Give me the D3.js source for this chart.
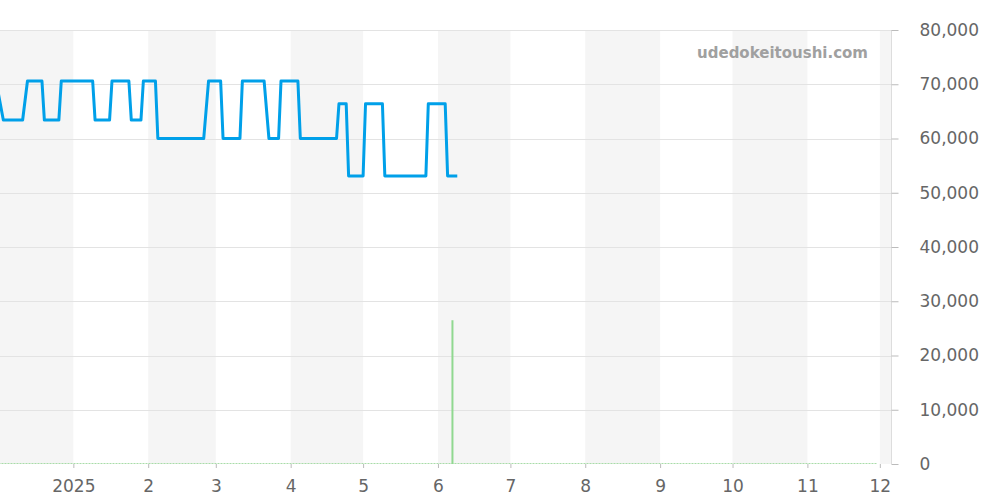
<!DOCTYPE html>
<html>
<head>
<meta charset="utf-8">
<script src="https://cdn.jsdelivr.net/npm/d3@7/dist/d3.min.js"></script>
<style>
  body { margin: 0; background: #fff; }
  svg { display: block; font-family: "DejaVu Sans", sans-serif; }
</style>
</head>
<body>
<svg id="chart" width="1000" height="500"></svg>
<script>
// price series (blue line)
const priceDates = [
  "2024-11-30", "2024-12-03", "2024-12-11", "2024-12-13", "2024-12-19", "2024-12-20",
  "2024-12-26", "2024-12-27", "2025-01-09", "2025-01-10", "2025-01-16", "2025-01-17",
  "2025-01-24", "2025-01-25", "2025-01-29", "2025-01-30", "2025-02-04", "2025-02-05",
  "2025-02-24", "2025-02-26", "2025-03-03", "2025-03-04", "2025-03-11", "2025-03-12",
  "2025-03-21", "2025-03-23", "2025-03-27", "2025-03-28", "2025-04-04", "2025-04-05",
  "2025-04-20", "2025-04-21", "2025-04-24", "2025-04-25", "2025-05-01", "2025-05-02",
  "2025-05-09", "2025-05-10", "2025-05-27", "2025-05-28", "2025-06-04", "2025-06-05",
  "2025-06-09"
];
const priceValues = [
  70600, 63400, 63400, 70600, 70600, 63400,
  63400, 70600, 70600, 63400, 63400, 70600,
  70600, 63400, 63400, 70600, 70600, 60000,
  60000, 70600, 70600, 60000, 60000, 70600,
  70600, 60000, 60000, 70600, 70600, 60000,
  60000, 66400, 66400, 53100, 53100, 66400,
  66400, 53100, 53100, 66400, 66400, 53100,
  53100
];

// volume series (green bars), zero outside these dates
const volumeDates = ["2025-06-07"];
const volumeValues = [26500];
const volumeRange = ["2024-12-01", "2025-11-30"];

// axes
const monthStarts = ["2024-12-01", "2025-01-01", "2025-02-01", "2025-03-01", "2025-04-01", "2025-05-01",
  "2025-06-01", "2025-07-01", "2025-08-01", "2025-09-01", "2025-10-01", "2025-11-01", "2025-12-01"];
const xTickDates = monthStarts.slice(1);
const xTickLabels = ["2025", "2", "3", "4", "5", "6", "7", "8", "9", "10", "11", "12"];
const yTicks = [0, 10000, 20000, 30000, 40000, 50000, 60000, 70000, 80000];

const parse = d3.timeParse("%Y-%m-%d");
const svg = d3.select("#chart");

const plotRight = 891, plotTop = 30, plotBottom = 464;

const x = d3.scaleTime()
  .domain([new Date(2024, 11, 1, 15), new Date(2025, 11, 5, 15)])
  .range([0, plotRight]);
const y = d3.scaleLinear().domain([0, 80000]).range([plotBottom, plotTop]);

// alternating month bands
const bands = [];
for (let i = 0; i < monthStarts.length; i += 2) {
  const s = parse(monthStarts[i]);
  const e = d3.timeMonth.offset(s, 1);
  bands.push([s, e]);
}
svg.append("g")
  .selectAll("rect")
  .data(bands)
  .join("rect")
  .attr("x", d => Math.max(0, x(d[0])))
  .attr("y", plotTop)
  .attr("width", d => Math.min(plotRight, x(d[1])) - Math.max(0, x(d[0])))
  .attr("height", plotBottom - plotTop)
  .attr("fill", "#f5f5f5");

// horizontal grid
svg.append("g")
  .selectAll("line")
  .data(yTicks.filter(d => d > 0))
  .join("line")
  .attr("x1", 0)
  .attr("x2", plotRight)
  .attr("y1", d => Math.round(y(d)) + 0.5)
  .attr("y2", d => Math.round(y(d)) + 0.5)
  .attr("stroke", "#e3e3e3");

// watermark
svg.append("text")
  .attr("x", 868)
  .attr("y", 58)
  .attr("text-anchor", "end")
  .attr("font-size", 15)
  .attr("font-weight", "bold")
  .attr("fill", "#a0a0a0")
  .text("udedokeitoushi.com");

// right axis
const yAxis = svg.append("g")
  .attr("transform", `translate(${plotRight + 0.5},0)`)
  .call(d3.axisRight(y).tickValues(yTicks).tickSize(7).tickPadding(21).tickFormat(d3.format(",")));
yAxis.select(".domain").attr("stroke", "#dddddd").attr("d", `M0,${plotTop}V${plotBottom}`);
yAxis.selectAll(".tick line").attr("stroke", "#bbbbbb");
yAxis.selectAll("text").attr("font-size", 17).attr("fill", "#666").attr("font-family", "DejaVu Sans");

// bottom axis
const xAxis = svg.append("g")
  .attr("transform", `translate(0,${plotBottom})`)
  .call(d3.axisBottom(x).tickValues(xTickDates.map(parse)).tickSize(4).tickPadding(12)
    .tickFormat((d, i) => xTickLabels[i]));
xAxis.select(".domain").remove();
xAxis.selectAll(".tick line").attr("stroke", "#bbbbbb");
xAxis.selectAll("text").attr("font-size", 17).attr("fill", "#666").attr("font-family", "DejaVu Sans");

// clip for plot area
svg.append("clipPath").attr("id", "plotClip")
  .append("rect").attr("x", 0).attr("y", 0).attr("width", plotRight).attr("height", plotBottom + 2);

// volume baseline (zero days) and bars
const vr = volumeRange.map(parse);
svg.append("line")
  .attr("x1", x(vr[0]))
  .attr("x2", x(vr[1]))
  .attr("y1", y(0) - 0.5)
  .attr("y2", y(0) - 0.5)
  .attr("stroke", "#a8dca8")
  .attr("stroke-width", 1)
  .attr("stroke-dasharray", "2,1");

svg.append("g")
  .selectAll("rect")
  .data(volumeDates.map((d, i) => ({ date: parse(d), value: volumeValues[i] })))
  .join("rect")
  .attr("x", d => x(d.date) - 1)
  .attr("y", d => y(d.value))
  .attr("width", 2)
  .attr("height", d => y(0) - y(d.value))
  .attr("fill", "#90d890");

// price line
const priceData = priceDates.map((d, i) => ({ date: parse(d), value: priceValues[i] }));
svg.append("path")
  .datum(priceData)
  .attr("clip-path", "url(#plotClip)")
  .attr("fill", "none")
  .attr("stroke", "#00a0e9")
  .attr("stroke-width", 3)
  .attr("stroke-linejoin", "round")
  .attr("d", d3.line().x(d => x(d.date)).y(d => y(d.value)));
</script>
</body>
</html>
